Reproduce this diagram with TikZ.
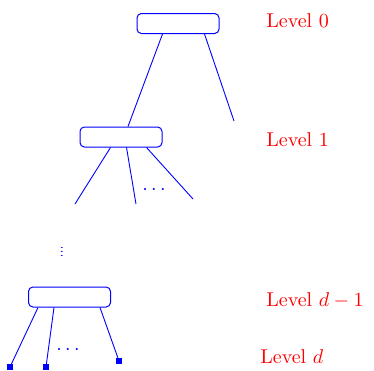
\documentclass[tikz,border=0pt]{standalone}
\usetikzlibrary{calc}
\begin{document}
\begin{tikzpicture}[x=0.5pt,y=-0.5pt,
  box/.style={draw=blue,rounded corners=2.2pt,minimum width=41pt,minimum height=10pt,inner sep=0pt,line width=0.5pt},
  conn/.style={blue,line width=0.45pt},
  leaf/.style={fill=blue,inner sep=0pt,minimum size=3pt},
  lvl/.style={red,anchor=west,inner sep=0pt},
  dots/.style={blue,inner sep=0pt}]
\useasboundingbox (0,0) rectangle (374,370);
\node[box] (b0) at (178,23.5) {};
\node[box] (b1) at (121,137) {};
\node[box] (b2) at (69.5,297) {};
\coordinate (r0) at (234,121);
\coordinate (e1) at (75,204);
\coordinate (e2) at (136,204);
\coordinate (e3) at (193,199);
\node[leaf] (s1) at (10,367) {};
\node[leaf] (s2) at (46,367) {};
\node[leaf] (s3) at (119,361) {};
% level 0
\draw[conn] ($(b0.south west)+(26,0)$) -- ($(b1.north)+(7,0)$);
\draw[conn] ($(b0.south west)+(68,0)$) -- (r0);
% level 1
\draw[conn] ($(b1.south west)+(31,0)$) -- (e1);
\draw[conn] ($(b1.south west)+(47,0)$) -- (e2);
\draw[conn] ($(b1.south west)+(67,0)$) -- (e3);
% level d-1
\draw[conn] ($(b2.south west)+(10,0)$) -- (s1.center);
\draw[conn] ($(b2.south west)+(26,0)$) -- (s2.center);
\draw[conn] ($(b2.south west)+(72,0)$) -- (s3.center);
% dots
\node[dots] (d1) at (154,190) {$\cdots$};
\node[dots] (d2) at (62,249) {\scalebox{1}[0.5]{$\vdots$}};
\node[dots] (d3) at (68,350) {$\cdots$};
% labels
\node[lvl] (t0) at (266,21) {Level 0};
\node[lvl] (t1) at (266,140) {Level 1};
\node[lvl] (t2) at (266,300) {Level $d-1$};
\node[lvl] (t3) at (260,357) {Level $d$};
\end{tikzpicture}
\end{document}
